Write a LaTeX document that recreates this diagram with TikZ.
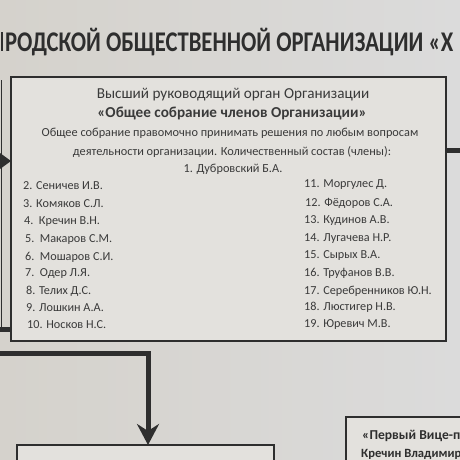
\documentclass[tikz,border=0pt]{standalone}
\usepackage{fontspec}
\setmainfont{Carlito}
\usetikzlibrary{arrows.meta}
\definecolor{paperL}{HTML}{D5D2CC}
\definecolor{paperR}{HTML}{DBDBDB}
\definecolor{boxfill}{HTML}{E3E1DD}
\definecolor{ink}{HTML}{2E2E2E}
\definecolor{txt}{HTML}{3A3A3A}
\tikzset{
  frame/.style={draw=ink, line width=1.4pt, fill=boxfill, inner sep=0pt, outer sep=0pt},
  thick conn/.style={draw=ink, line width=5pt},
  thin conn/.style={draw=ink, line width=1.2pt},
  hdr/.style={text=txt, font=\fontsize{15.2}{17}\selectfont, inner sep=0pt},
  hdrb/.style={text=txt, font=\fontsize{15.2}{17}\selectfont\bfseries, inner sep=0pt},
  body/.style={text=txt, font=\fontsize{12.3}{14}\selectfont, inner sep=0pt},
  member/.style={text=txt, font=\fontsize{12.2}{14}\selectfont, inner sep=0pt, anchor=west},
  title/.style={text=ink, font=\fontsize{28.5}{30}\selectfont\bfseries, inner sep=0pt, anchor=west},
  vice/.style={text=ink, font=\fontsize{13.6}{15}\selectfont\bfseries, inner sep=0pt, anchor=west}
}
\begin{document}
\begin{tikzpicture}[x=1pt, y=-1pt]
\useasboundingbox (0,0) rectangle (460,460);
\clip (0,0) rectangle (460,460);
\shade[left color=paperL, right color=paperR] (0,0) rectangle (460,460);
% title
\fill[ink] (1,32) rectangle (3.2,51);
\node[title, xscale=0.795] (title) at (5,42) {РОДСКОЙ ОБЩЕСТВЕННОЙ ОРГАНИЗАЦИИ «Х};
% main box
\node[frame, minimum width=435pt, minimum height=264pt] (main) at (228.5,209) {};
\node[hdr] (h1) at (233,95) {Высший руководящий орган Организации};
\node[hdrb] (h2) at (232,113) {«Общее собрание членов Организации»};
\node[body] (h3) at (230,133) {Общее собрание правомочно принимать решения по любым вопросам};
\node[body] (h4) at (232,152) {деятельности организации. Количественный состав (члены):};
\node[body] (m1) at (233,169) {1. Дубровский Б.А.};
% left column
\node[member] (m2) at (23,186) {2. Сеничев И.В.};
\node[member] (m3) at (23,204) {3. Комяков С.Л.};
\node[member] (m4) at (24,222) {4.\ \ Кречин В.Н.};
\node[member] (m5) at (25,240) {5.\ \ Макаров С.М.};
\node[member] (m6) at (25,257) {6.\ \ Мошаров С.И.};
\node[member] (m7) at (25,274) {7.\ \ Одер Л.Я.};
\node[member] (m8) at (26,291) {8. Телих Д.С.};
\node[member] (m9) at (26,308) {9. Лошкин А.А.};
\node[member] (m10) at (27,325) {10. Носков Н.С.};
% right column
\node[member] (m11) at (304,185) {11. Моргулес Д.};
\node[member] (m12) at (305,203) {12. Фёдоров С.А.};
\node[member] (m13) at (304,221) {13. Кудинов А.В.};
\node[member] (m14) at (304,239) {14. Лугачева Н.Р.};
\node[member] (m15) at (304,256) {15. Сырых В.А.};
\node[member] (m16) at (304,273) {16. Труфанов В.В.};
\node[member] (m17) at (304,291) {17. Серебренников Ю.Н.};
\node[member] (m18) at (304,307) {18. Люстигер Н.В.};
\node[member] (m19) at (304,325) {19. Юревич М.В.};
% lower boxes
\node[frame, anchor=north west, minimum width=257pt, minimum height=40pt] (low) at (17,445) {};
\node[frame, anchor=north west, minimum width=130pt, minimum height=60pt] (vicebox) at (346,417) {};
\node[vice] (v1) at (362,436) {«Первый Вице-п};
\node[vice, font=\fontsize{12.6}{14}\selectfont\bfseries] (v2) at (361,454) {Кречин Владимир};
% connectors
\coordinate (ltop) at (1.5,80);
\coordinate (lbot) at (1.5,329);
\coordinate (ledge) at (0,353);
\coordinate (redge) at (460,150);
\coordinate (larr) at (0,161);
\draw[thin conn] (ltop) -- (lbot);
\draw[thick conn] (lbot -| 0,0) -- (lbot -| main.west);
\fill[ink] (larr) ++(0,-8) -- (main.west |- larr) -- ++(-11,8) -- cycle;
\draw[thick conn] (main.east |- redge) -- (redge);
\draw[thick conn, -{Stealth[length=21pt, width=22pt, inset=7pt]}] (ledge) -| ([xshift=2.5pt]low.north);
\end{tikzpicture}
\end{document}
